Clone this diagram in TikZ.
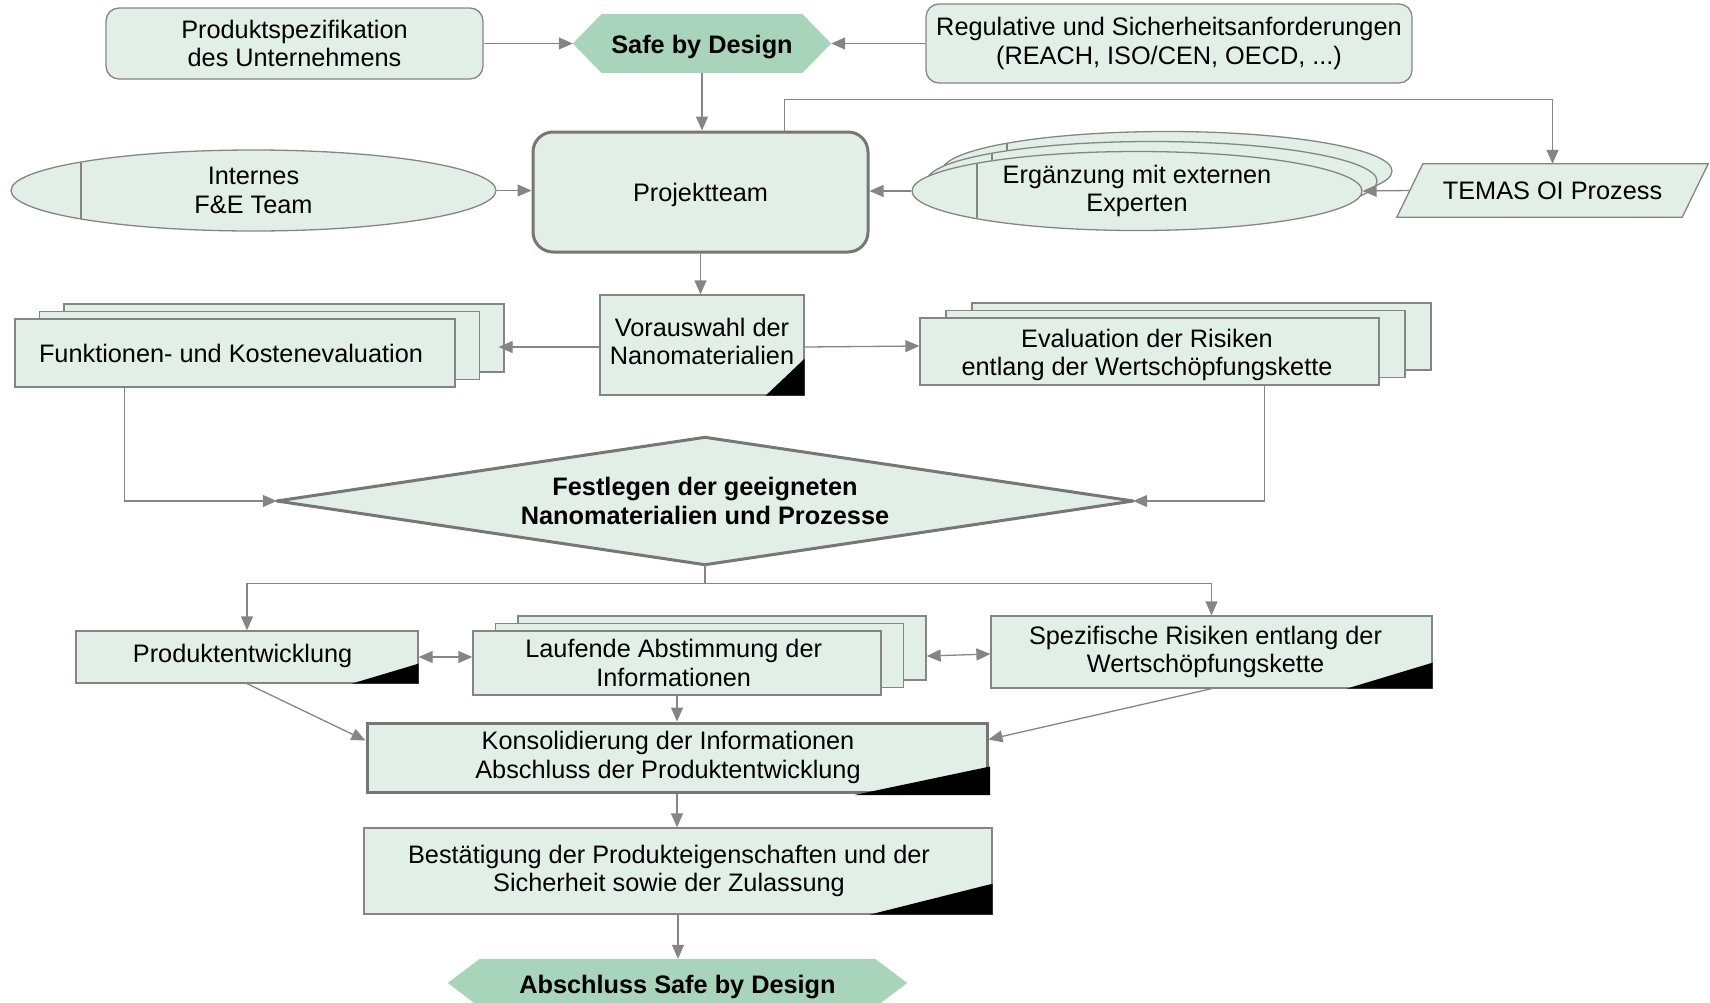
\documentclass[tikz,border=0pt]{standalone}
\usepackage{fontspec}
\setmainfont{Liberation Sans}
\usetikzlibrary{arrows.meta,calc,shapes.geometric}
\pgfdeclarelayer{background}
\pgfsetlayers{background,main}
\definecolor{boxfill}{HTML}{E1EFE7}
\definecolor{hexfill}{HTML}{A8D4BC}
\definecolor{edge}{HTML}{858585}
\definecolor{heavy}{HTML}{767676}
% text block moved by (#1 horizontally, #2 vertically), lines stacked with \\
\newcommand\tblock[3]{\raisebox{#2}[\height][\depth]{\kern#1\begin{tabular}{@{}c@{}}#3\end{tabular}\kern-#1}}
% single line moved by (#1 horizontally, #2 vertically)
\newcommand\tline[3]{\raisebox{#2}[\height][\depth]{\kern#1#3\kern-#1}}
\tikzset{
  sz/.style 2 args={minimum width=#1pt, minimum height=#2pt},
  base/.style={font=\fontsize{25.3}{28.5}\selectfont, align=center, inner sep=0pt},
  boldtext/.style={base, font=\fontsize{25.3}{28.5}\selectfont\bfseries},
  box/.style={base, draw=edge, line width=1.3pt, fill=boxfill},
  rbox/.style={box, rounded corners=13pt},
  thickbox/.style={box, draw=heavy, line width=3pt},
  oval/.style={box, ellipse},
  arr/.style={draw=edge, line width=1.3pt, -{Triangle[length=14pt,width=12pt]}},
  darr/.style={draw=edge, line width=1.3pt, {Triangle[length=14pt,width=12pt]}-{Triangle[length=14pt,width=12pt]}},
  chord/.style={draw=edge, line width=1.1pt},
  corner/.style={fill=black},
}
\begin{document}
\begin{tikzpicture}[x=1pt,y=-1pt]
\useasboundingbox (0,0) rectangle (1710,1002);
\clip (0,0) rectangle (1710,1002);

% ---- top row
\node[rbox, sz={377}{71}] (prod) at (294.5,43.5) {Produktspezifikation\\des Unternehmens};
\node[boldtext, sz={258}{59}] (safe) at (702,43.5) {\tline{0pt}{-3.3pt}{Safe by Design}};
\node[rbox, sz={486}{79}] (reg) at (1169,43.5) {Regulative und Sicherheitsanforderungen\\(REACH, ISO/CEN, OECD, ...)};
\begin{pgfonlayer}{background}
  \fill[hexfill] (safe.west) -- ([xshift=29pt]safe.north west) -- ([xshift=-29pt]safe.north east)
    -- (safe.east) -- ([xshift=-29pt]safe.south east) -- ([xshift=29pt]safe.south west) -- cycle;
\end{pgfonlayer}

% ---- project team row
\node[thickbox, rounded corners=20pt, sz={335}{120}] (proj) at (700.5,192) {\tline{0pt}{-3.3pt}{Projektteam}};
\node[oval, sz={485}{81}] (int) at (253.5,190.5) {Internes\\F\&E Team};
\draw[chord] ($(int.center)+(-172.5,-28.5)$) -- ($(int.center)+(-172.5,28.5)$);

\node[oval, sz={450}{79}] (ergB) at (1167,171) {};
\draw[chord] ($(ergB.center)+(-160,-27.4)$) -- ($(ergB.center)+(-160,27.4)$);
\node[oval, sz={450}{79}] (ergM) at (1152,181) {};
\draw[chord] ($(ergM.center)+(-160,-27.4)$) -- ($(ergM.center)+(-160,27.4)$);
\node[oval, sz={450}{79}] (ergF) at (1137,191) {Ergänzung mit externen\\Experten};
\draw[chord] ($(ergF.center)+(-160,-27.4)$) -- ($(ergF.center)+(-160,27.4)$);

\node[base, sz={311}{53}] (temas) at (1552.5,190.5) {TEMAS OI Prozess};
\begin{pgfonlayer}{background}
  \filldraw[fill=boxfill, draw=edge, line width=1.3pt] (temas.south west) -- ([xshift=26pt]temas.north west)
    -- (temas.north east) -- ([xshift=-26pt]temas.south east) -- cycle;
\end{pgfonlayer}

% ---- preselection row
\node[box, sz={204}{100}] (vor) at (702,345) {\tblock{0pt}{0pt}{Vorauswahl der\\Nanomaterialien}};
\fill[corner] (vor.south east) -- ([xshift=-39pt]vor.south east) -- ([yshift=37pt]vor.south east) -- cycle;

\node[box, sz={440}{68}] (funkB) at (284,338) {};
\node[box, sz={440}{68}] (funkM) at (259.5,345.5) {};
\node[box, sz={440}{68}] (funkF) at (235,353) {\tline{-4pt}{0pt}{Funktionen- und Kostenevaluation}};

\node[box, sz={459}{67}] (evalB) at (1201.5,336.5) {};
\node[box, sz={459}{67}] (evalM) at (1175.5,344) {};
\node[box, sz={459}{67}] (evalF) at (1149.5,351.5) {\tblock{-2.5pt}{-4.1pt}{Evaluation der Risiken\\entlang der Wertschöpfungskette}};

% ---- decision
\node[boldtext, sz={856}{127}] (fest) at (705,501) {Festlegen der geeigneten\\Nanomaterialien und Prozesse};
\begin{pgfonlayer}{background}
  \filldraw[fill=boxfill, draw=heavy, line width=3pt, line join=round]
    (fest.west) -- (fest.north) -- (fest.east) -- (fest.south) -- cycle;
\end{pgfonlayer}

% ---- development row
\node[box, sz={342}{52}] (pe) at (247,657) {\tline{-4.4pt}{1pt}{Produktentwicklung}};
\fill[corner] (pe.south east) -- ([xshift=-67pt]pe.south east) -- ([yshift=20pt]pe.south east) -- cycle;

\node[box, sz={408}{64}] (laufB) at (722,648) {};
\node[box, sz={408}{64}] (laufM) at (699.5,655.5) {};
\node[box, sz={408}{64}] (laufF) at (677,663) {\tblock{-3.3pt}{-3.3pt}{Laufende Abstimmung der\\Informationen}};

\node[box, sz={441}{72}] (spez) at (1211.5,652) {\tblock{-6pt}{-0.8pt}{Spezifische Risiken entlang der\\Wertschöpfungskette}};
\fill[corner] (spez.south east) -- ([xshift=-86pt]spez.south east) -- ([yshift=26pt]spez.south east) -- cycle;

% ---- closing steps
\node[thickbox, sz={620}{69}] (kons) at (677,757.5) {\tblock{-9pt}{-0.8pt}{Konsolidierung der Informationen\\Abschluss der Produktentwicklung}};
\fill[corner] ([xshift=1.5pt,yshift=-1.5pt]kons.south east) -- ([xshift=-134pt,yshift=-1.5pt]kons.south east) -- ([xshift=1.5pt,yshift=27pt]kons.south east) -- cycle;

\node[box, sz={628}{86}] (best) at (678,871) {\tblock{-9pt}{-0.8pt}{Bestätigung der Produkteigenschaften und der\\Sicherheit sowie der Zulassung}};
\fill[corner] (best.south east) -- ([xshift=-123pt]best.south east) -- ([yshift=31pt]best.south east) -- cycle;

\node[boldtext, sz={459}{48}] (absch) at (677.5,983) {\tline{0pt}{-4.4pt}{Abschluss Safe by Design}};
\begin{pgfonlayer}{background}
  \fill[hexfill] (absch.west) -- ([xshift=32pt]absch.north west) -- ([xshift=-32pt]absch.north east)
    -- (absch.east) -- ([xshift=-32pt]absch.south east) -- ([xshift=32pt]absch.south west) -- cycle;
\end{pgfonlayer}

% ---- connectors
\draw[arr] (prod.east) -- (safe.west);
\draw[arr] (reg.west) -- (safe.east);
\draw[arr] (safe.south) -- (safe.south |- proj.north);
\draw[arr] (int.east) -- (int.east -| proj.west);
\draw[arr] (ergF.west) -- (ergF.west -| proj.east);
\draw[arr] ([xshift=13pt]temas.west) -- (ergF.east);
\draw[arr] ([xshift=84pt]proj.north) -- ++(0,-31) -| (temas.north);
\draw[arr] (proj.south) -- (proj.south |- vor.north);
\draw[arr] ([yshift=-2pt]vor.west) -- ([xshift=-6pt,yshift=-2pt]vor.west -| funkB.east);
\draw[arr] ([yshift=-2pt]vor.east) -- ([yshift=-1pt]vor.east -| evalF.west);
\draw[arr] ($(funkF.south west)!0.25!(funkF.south east)$) |- (fest.west);
\draw[arr] ($(evalF.south west)!0.75!(evalF.south east)$) |- (fest.east);
\draw[arr] (fest.south) -- ++(0,19) -| (pe.north);
\draw[arr] (fest.south) -- ++(0,19) -| (spez.north);
\draw[darr] (pe.east) -- (pe.east -| laufF.west);
\draw[darr] ([yshift=-8pt]laufB.east) -- ([yshift=-2pt]spez.west);
\draw[arr] (laufF.south) -- (laufF.south |- kons.north);
\draw[arr] (pe.south) -- ([yshift=17pt]kons.west);
\draw[arr] (spez.south) -- ([yshift=18pt]kons.east);
\draw[arr] (kons.south) -- (kons.south |- best.north);
\draw[arr] (best.south) -- (best.south |- absch.north);
\end{tikzpicture}
\end{document}
